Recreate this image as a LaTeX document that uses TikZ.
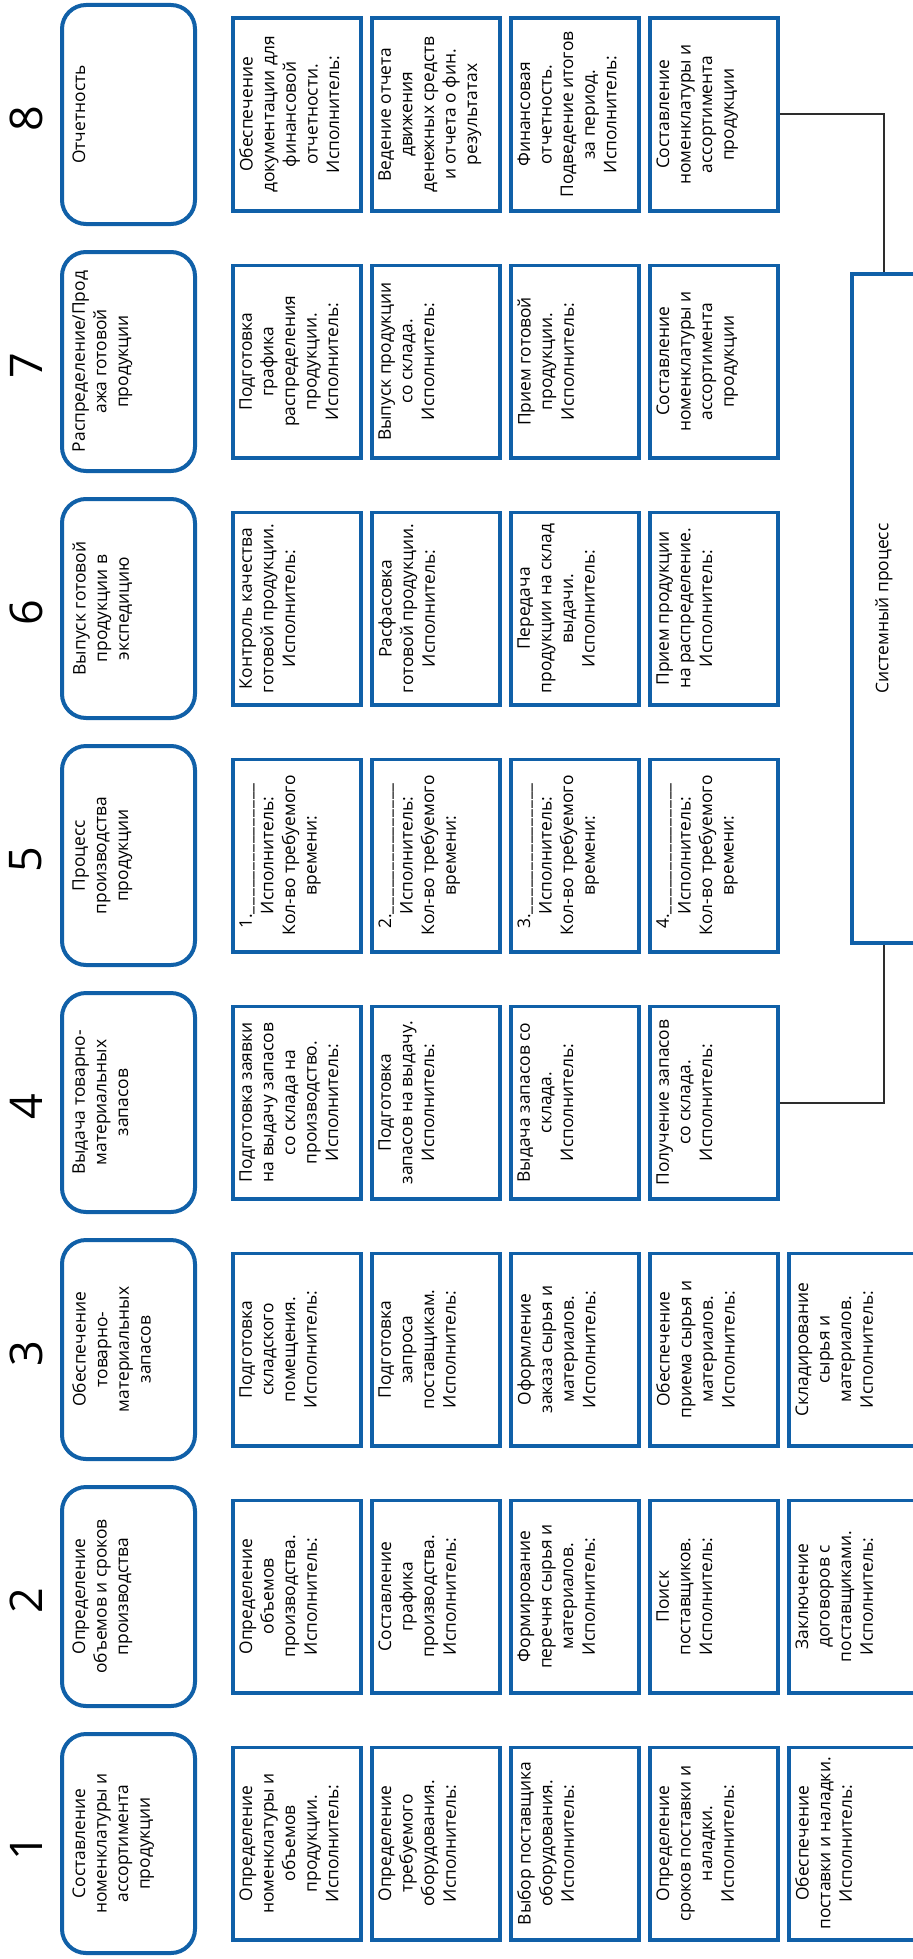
\documentclass[tikz,border=0pt]{standalone}
\usepackage{fontspec}
\setmainfont{Open Sans}
\usepackage{tikz}
\definecolor{procblue}{RGB}{16,96,168}
\definecolor{linkgray}{RGB}{45,45,45}
\newcommand{\tasksize}{\fontsize{8.7pt}{10.8pt}\selectfont}
\newcommand{\numsize}{\fontsize{22.5pt}{27pt}\selectfont}
\newcommand{\numnode}{\node[rotate=90,inner sep=0pt,font=\numsize]}
\newcommand{\headnode}{\node[rotate=90,rectangle,rounded corners=12pt,draw=procblue,line width=2pt,minimum width=109.5pt,minimum height=66.5pt]}
\newcommand{\tasknode}{\node[rotate=90,rectangle,draw=procblue,line width=1.8pt,minimum width=96.2pt,minimum height=64.2pt]}
\newcommand{\labnode}{\node[rotate=90,anchor=north,align=center,inner sep=0pt,font=\tasksize]}
\newcommand{\us}{\_\kern0.5pt}
\newcommand{\blank}{\us\us\us\us\us\us\us\us\us\us\us\us\us\us\us}

\begin{document}
\begin{tikzpicture}[x=0.5pt,y=-0.5pt]
  \useasboundingbox (0,0) rectangle (913,1959);
  \clip (0,0) rectangle (913,1959);
  %%%% stage 1
  \numnode (n1) at (26,1847.5) {1};
  \headnode (h1) at (128.5,1843.5) {};
  \labnode (h1t) at (72,1843.5) {Составление\\номенклатуры и\\ассортимента\\продукции};
  \tasknode (t11) at (297,1843.5) {}; \labnode (t11t) at (239,1843.5) {Определение\\номенклатуры и\\объемов\\продукции.\\Исполнитель:};
  \tasknode (t12) at (436,1843.5) {}; \labnode (t12t) at (378,1843.5) {Определение\\требуемого\\оборудования.\\Исполнитель:};
  \tasknode (t13) at (575,1843.5) {}; \labnode (t13t) at (517,1843.5) {Выбор поставщика\\оборудования.\\Исполнитель:};
  \tasknode (t14) at (714,1843.5) {}; \labnode (t14t) at (656,1843.5) {Определение\\сроков поставки и\\наладки.\\Исполнитель:};
  \tasknode (t15) at (853,1843.5) {}; \labnode (t15t) at (795,1843.5) {Обеспечение\\поставки и наладки.\\Исполнитель:};
  %%%% stage 2
  \numnode (n2) at (26,1600.5) {2};
  \headnode (h2) at (128.5,1596.5) {};
  \labnode (h2t) at (72,1596.5) {Определение\\объемов и сроков\\производства};
  \tasknode (t21) at (297,1596.5) {}; \labnode (t21t) at (239,1596.5) {Определение\\объемов\\производства.\\Исполнитель:};
  \tasknode (t22) at (436,1596.5) {}; \labnode (t22t) at (378,1596.5) {Составление\\графика\\производства.\\Исполнитель:};
  \tasknode (t23) at (575,1596.5) {}; \labnode (t23t) at (517,1596.5) {Формирование\\перечня сырья и\\материалов.\\Исполнитель:};
  \tasknode (t24) at (714,1596.5) {}; \labnode (t24t) at (656,1596.5) {Поиск\\поставщиков.\\Исполнитель:};
  \tasknode (t25) at (853,1596.5) {}; \labnode (t25t) at (795,1596.5) {Заключение\\договоров с\\поставщиками.\\Исполнитель:};
  %%%% stage 3
  \numnode (n3) at (26,1353.5) {3};
  \headnode (h3) at (128.5,1349.5) {};
  \labnode (h3t) at (72,1349.5) {Обеспечение\\товарно-\\материальных\\запасов};
  \tasknode (t31) at (297,1349.5) {}; \labnode (t31t) at (239,1349.5) {Подготовка\\складского\\помещения.\\Исполнитель:};
  \tasknode (t32) at (436,1349.5) {}; \labnode (t32t) at (378,1349.5) {Подготовка\\запроса\\поставщикам.\\Исполнитель:};
  \tasknode (t33) at (575,1349.5) {}; \labnode (t33t) at (517,1349.5) {Оформление\\заказа сырья и\\материалов.\\Исполнитель:};
  \tasknode (t34) at (714,1349.5) {}; \labnode (t34t) at (656,1349.5) {Обеспечение\\приема сырья и\\материалов.\\Исполнитель:};
  \tasknode (t35) at (853,1349.5) {}; \labnode (t35t) at (795,1349.5) {Складирование\\сырья и\\материалов.\\Исполнитель:};
  %%%% stage 4
  \numnode (n4) at (26,1106.5) {4};
  \headnode (h4) at (128.5,1102.5) {};
  \labnode (h4t) at (72,1102.5) {Выдача товарно-\\материальных\\запасов};
  \tasknode (t41) at (297,1102.5) {}; \labnode (t41t) at (239,1102.5) {Подготовка заявки\\на выдачу запасов\\со склада на\\производство.\\Исполнитель:};
  \tasknode (t42) at (436,1102.5) {}; \labnode (t42t) at (378,1102.5) {Подготовка\\запасов на выдачу.\\Исполнитель:};
  \tasknode (t43) at (575,1102.5) {}; \labnode (t43t) at (517,1102.5) {Выдача запасов со\\склада.\\Исполнитель:};
  \tasknode (t44) at (714,1102.5) {}; \labnode (t44t) at (656,1102.5) {Получение запасов\\со склада.\\Исполнитель:};
  %%%% stage 5
  \numnode (n5) at (26,859.5) {5};
  \headnode (h5) at (128.5,855.5) {};
  \labnode (h5t) at (72,855.5) {Процесс\\производства\\продукции};
  \tasknode (t51) at (297,855.5) {}; \labnode (t51t) at (239,855.5) {1.\blank\\Исполнитель:\\Кол-во требуемого\\времени:};
  \tasknode (t52) at (436,855.5) {}; \labnode (t52t) at (378,855.5) {2.\blank\\Исполнитель:\\Кол-во требуемого\\времени:};
  \tasknode (t53) at (575,855.5) {}; \labnode (t53t) at (517,855.5) {3.\blank\\Исполнитель:\\Кол-во требуемого\\времени:};
  \tasknode (t54) at (714,855.5) {}; \labnode (t54t) at (656,855.5) {4.\blank\\Исполнитель:\\Кол-во требуемого\\времени:};
  %%%% stage 6
  \numnode (n6) at (26,612.5) {6};
  \headnode (h6) at (128.5,608.5) {};
  \labnode (h6t) at (72,608.5) {Выпуск готовой\\продукции в\\экспедицию};
  \tasknode (t61) at (297,608.5) {}; \labnode (t61t) at (239,608.5) {Контроль качества\\готовой продукции.\\Исполнитель:};
  \tasknode (t62) at (436,608.5) {}; \labnode (t62t) at (378,608.5) {Расфасовка\\готовой продукции.\\Исполнитель:};
  \tasknode (t63) at (575,608.5) {}; \labnode (t63t) at (517,608.5) {Передача\\продукции на склад\\выдачи.\\Исполнитель:};
  \tasknode (t64) at (714,608.5) {}; \labnode (t64t) at (656,608.5) {Прием продукции\\на распределение.\\Исполнитель:};
  %%%% stage 7
  \numnode (n7) at (26,365.5) {7};
  \headnode (h7) at (128.5,361.5) {};
  \labnode (h7t) at (72,361.5) {Распределение/Прод\\ажа готовой\\продукции};
  \tasknode (t71) at (297,361.5) {}; \labnode (t71t) at (239,361.5) {Подготовка\\графика\\распределения\\продукции.\\Исполнитель:};
  \tasknode (t72) at (436,361.5) {}; \labnode (t72t) at (378,361.5) {Выпуск продукции\\со склада.\\Исполнитель:};
  \tasknode (t73) at (575,361.5) {}; \labnode (t73t) at (517,361.5) {Прием готовой\\продукции.\\Исполнитель:};
  \tasknode (t74) at (714,361.5) {}; \labnode (t74t) at (656,361.5) {Составление\\номенклатуры и\\ассортимента\\продукции};
  %%%% stage 8
  \numnode (n8) at (26,118.5) {8};
  \headnode (h8) at (128.5,114.5) {};
  \labnode (h8t) at (72,114.5) {Отчетность};
  \tasknode (t81) at (297,114.5) {}; \labnode (t81t) at (239,114.5) {Обеспечение\\документации для\\финансовой\\отчетности.\\Исполнитель:};
  \tasknode (t82) at (436,114.5) {}; \labnode (t82t) at (378,114.5) {Ведение отчета\\движения\\денежных средств\\и отчета о фин.\\результатах};
  \tasknode (t83) at (575,114.5) {}; \labnode (t83t) at (517,114.5) {Финансовая\\отчетность.\\Подведение итогов\\за период.\\Исполнитель:};
  \tasknode (t84) at (714,114.5) {}; \labnode (t84t) at (656,114.5) {Составление\\номенклатуры и\\ассортимента\\продукции};
  %%%% system process box
  \node[rotate=90,rectangle,draw=procblue,line width=1.8pt,minimum width=334.7pt,minimum height=32.2pt,font=\tasksize] (sys) at (884,608.5) {Системный процесс};
  %%%% links
  \draw[linkgray,line width=1pt] (t84.south) -| (sys.east);
  \draw[linkgray,line width=1pt] (t44.south) -| (sys.west);
\end{tikzpicture}
\end{document}
